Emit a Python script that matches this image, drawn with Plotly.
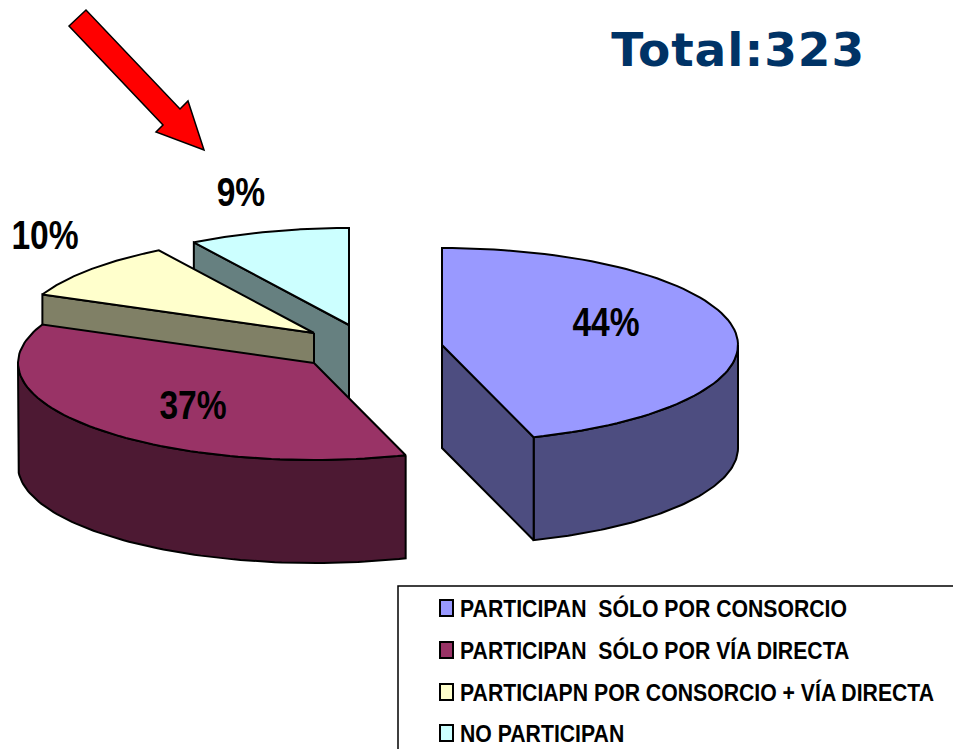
import math
import plotly.graph_objects as go

categories = ["PARTICIPAN\u00a0 SÓLO POR CONSORCIO", "PARTICIPAN\u00a0 SÓLO POR VÍA DIRECTA",
              "PARTICIAPN POR CONSORCIO + VÍA DIRECTA", "NO PARTICIPAN"]
shares = [44, 37, 10, 9]
top_colors = ["#9999FF", "#993366", "#FFFFCC", "#CCFFFF"]
wall_colors = ["#4D4D80", "#4D1933", "#808066", "#668080"]
total_label = "Total:323"

# layout of the exploded 3-D pie
RX, RY, DEPTH = 296, 97, 103
tips = [(442, 345), (314, 363), (314, 333), (349, 325)]
label_xy = [(606, 322), (193, 405), (45, 235), (241, 192)]
legend_y = [608, 650, 692, 733]
SANS = "Liberation Sans, Arial, sans-serif"


def warp(t):
    # the view's perspective stretches the front of the pie
    return t + 2.4 * (1 - math.cos(math.radians(t))) ** 0.6


def pt(tip, t, dz=0):
    a = math.radians(t)
    return tip[0] + RX * math.sin(a), tip[1] - RY * math.cos(a) + dz


def arc(tip, a, b, dz=0, n=80):
    return [pt(tip, a + (b - a) * i / n, dz) for i in range(n + 1)]


edges = [0]
for s in shares:
    edges.append(edges[-1] + 360 * s / sum(shares))
spans = [(warp(edges[i]), warp(edges[i + 1])) for i in range(len(shares))]

fig = go.Figure()


def poly(points, color):
    xs = [p[0] for p in points] + [points[0][0]]
    ys = [p[1] for p in points] + [points[0][1]]
    fig.add_trace(go.Scatter(x=xs, y=ys, mode="lines", fill="toself", fillcolor=color,
                             line=dict(color="black", width=2), hoverinfo="skip", showlegend=False))


def cut_wall(i, t):
    tip = tips[i]
    p = pt(tip, t)
    poly([tip, p, (p[0], p[1] + DEPTH), (tip[0], tip[1] + DEPTH)], wall_colors[i])


def slice_top(i):
    a, b = spans[i]
    poly([tips[i]] + arc(tips[i], a, b), top_colors[i])


def front_wall(i, a, b):
    tip = tips[i]
    poly(arc(tip, a, b) + arc(tip, b, a, DEPTH), wall_colors[i])


# painted from back to front
cut_wall(3, spans[3][0]); slice_top(3)
cut_wall(2, spans[2][0]); slice_top(2)
front_wall(1, spans[1][0], 270); slice_top(1)
front_wall(0, 90, spans[0][1]); cut_wall(0, spans[0][1]); slice_top(0)

for (x, y), s in zip(label_xy, shares):
    fig.add_annotation(x=x, y=y, text=f"{s}%", showarrow=False,
                       font=dict(family=SANS, size=40, weight="bold", color="black"))

fig.add_annotation(x=737, y=49, text=total_label, showarrow=False,
                   font=dict(family="DejaVu Sans", size=47, weight="bold", color="#003366"))

for y, c in zip(legend_y, categories):
    fig.add_annotation(x=458, y=y, text=c, xanchor="left", showarrow=False,
                       font=dict(family=SANS, size=24, weight="bold", color="black"))

shapes = [
    dict(type="path", path="M398,749 L398,586 L953,586", line=dict(color="black", width=1.5)),
    dict(type="path", path="M69,26 L86,10 L180,109 L188,101 L204,150 L156,132 L163,125 Z",
         fillcolor="#FF0000", line=dict(color="black", width=1.5)),
]
for y, col in zip(legend_y, top_colors):
    shapes.append(dict(type="rect", x0=440, x1=453, y0=y - 8, y1=y + 8,
                       fillcolor=col, line=dict(color="black", width=2)))

fig.update_layout(
    width=953, height=749, margin=dict(l=0, r=0, t=0, b=0),
    paper_bgcolor="white", plot_bgcolor="white", shapes=shapes, showlegend=False,
    xaxis=dict(range=[0, 953], visible=False, fixedrange=True),
    yaxis=dict(range=[749, 0], visible=False, fixedrange=True),
)

# no page margin; narrow the Arial texts to the condensed look of the reference
post = """
document.body.style.margin = '0';
document.querySelectorAll('.annotation-text').forEach(function (t) {
  var w = t.getComputedTextLength();
  var size = parseFloat(t.style.fontSize);
  if (size === 47) {
    t.setAttribute('textLength', 253);
    t.setAttribute('lengthAdjust', 'spacing');
  } else if (size === 40) {
    t.setAttribute('textLength', w * 0.84);
    t.setAttribute('lengthAdjust', 'spacingAndGlyphs');
  } else {
    var x = parseFloat(t.getAttribute('x'));
    t.style.textAnchor = 'start';
    t.setAttribute('x', x - w / 2);
    t.setAttribute('textLength', w * 0.884);
    t.setAttribute('lengthAdjust', 'spacingAndGlyphs');
  }
});
"""
fig.write_html("out.html", post_script=post, config={"displayModeBar": False})
